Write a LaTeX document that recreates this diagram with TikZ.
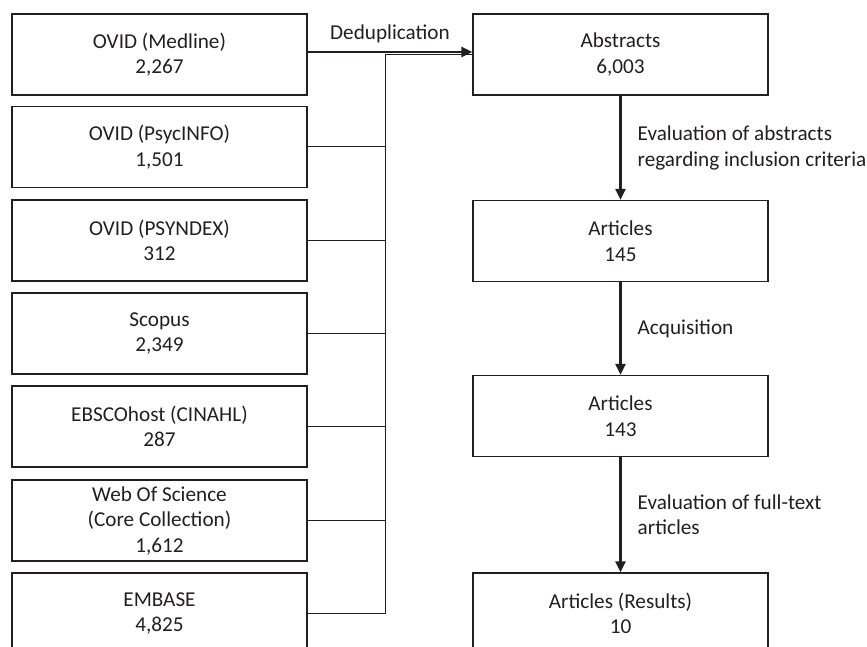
\documentclass[tikz,border=0pt]{standalone}
\usepackage{fontspec}
\setmainfont{Carlito}
\usetikzlibrary{arrows.meta}
\definecolor{ink}{HTML}{231F20}

\begin{document}
\begin{tikzpicture}[x=1pt,y=-1pt,
    box/.style={draw=ink,line width=1.3pt,minimum width=295pt,minimum height=81pt,inner sep=0pt,align=center,text=ink,font=\fontsize{21.2}{25.5}\selectfont},
    flow/.style={draw=ink,line width=2.4pt,-{Triangle[length=11pt,width=10pt]}},
    link/.style={draw=ink,line width=1pt},
    lab/.style={text=ink,align=left,anchor=west,inner sep=0pt,xshift=16pt,font=\fontsize{21.2}{25.5}\selectfont}]
		\useasboundingbox (0,0) rectangle (867,647);
		% sources
		\node[box] (medline) at (159.5, 54.5) {OVID (Medline)\\2,267};
		\node[box] (psycinfo) at (159.5, 147) {OVID (PsycINFO)\\1,501};
		\node[box] (psyndex) at (159.5, 240.5) {OVID (PSYNDEX)\\312};
		\node[box] (scopus) at (159.5, 333.5) {Scopus\\2,349};
		\node[box] (cinahl) at (159.5, 426.5) {EBSCOhost (CINAHL)\\287};
		\node[box] (wos) at (159.5, 520.5) {Web Of Science\\(Core Collection)\\1,612};
		\node[box] (embase) at (159.5, 613.5) {EMBASE\\4,825};
		% results column
		\node[box] (abstracts) at (620.5, 54.5) {Abstracts\\6,003};
		\node[box] (art145) at (620.5, 241) {Articles\\145};
		\node[box] (art143) at (620.5, 416) {Articles\\143};
		\node[box] (results) at (620.5, 613.5) {Articles (Results)\\10};
		% collecting line
		\coordinate (bustop) at (385, 54.5);
		\coordinate (busbot) at (385, 613.5);
		\draw[link] (bustop) -- (busbot);
		\draw[link] (bustop) -- (abstracts.west);
		\draw[link] (psycinfo.east) -- (psycinfo.east -| bustop);
		\draw[link] (psyndex.east) -- (psyndex.east -| bustop);
		\draw[link] (scopus.east) -- (scopus.east -| bustop);
		\draw[link] (cinahl.east) -- (cinahl.east -| bustop);
		\draw[link] (wos.east) -- (wos.east -| bustop);
		\draw[link] (embase.east) -- (embase.east -| bustop);
		% steps
		\draw[flow] ([yshift=2.5pt]medline.east) -- ([yshift=2.5pt]abstracts.west) node [midway,above=5pt,text=ink,font=\fontsize{21.2}{25.5}\selectfont] {Deduplication};
		\draw[flow] (abstracts) -- (art145) node [midway,lab] {Evaluation of abstracts\\regarding inclusion criteria};
		\draw[flow] (art145) -- (art143) node [midway,lab] {Acquisition};
		\draw[flow] (art143) -- (results) node [midway,lab] {Evaluation of full-text\\articles};
	\end{tikzpicture}
\end{document}
